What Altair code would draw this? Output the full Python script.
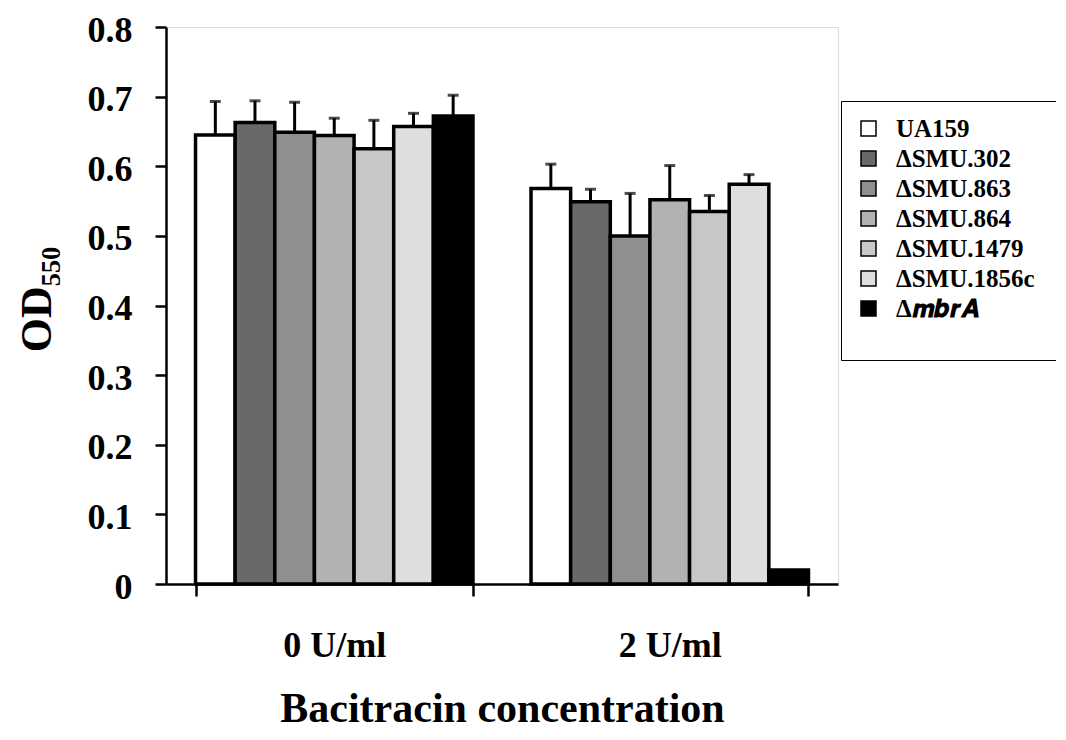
import altair as alt
import pandas as pd

conditions = ["0 U/ml", "2 U/ml"]
strains = ["UA159", "ΔSMU.302", "ΔSMU.863", "ΔSMU.864", "ΔSMU.1479", "ΔSMU.1856c", "Δ𝒎𝒃𝒓𝑨"]
colors = ["#ffffff", "#696969", "#8e908f", "#b2b2b2", "#c8c8c8", "#dedede", "#000000"]

od_0 = [0.645, 0.663, 0.649, 0.644, 0.625, 0.657, 0.672]
err_0 = [0.048, 0.031, 0.043, 0.025, 0.041, 0.019, 0.030]
od_2 = [0.568, 0.549, 0.500, 0.552, 0.535, 0.574, 0.020]
err_2 = [0.035, 0.018, 0.061, 0.049, 0.023, 0.014, 0.0]

rows = []
for cond, vals, errs in [(conditions[0], od_0, err_0), (conditions[1], od_2, err_2)]:
    for s, v, e in zip(strains, vals, errs):
        rows.append({"cond": cond, "strain": s, "od": v, "err": e, "hi": v + e})
df = pd.DataFrame(rows)

FONT = "Liberation Serif"

x_enc = alt.X(
    "cond:N",
    sort=conditions,
    scale=alt.Scale(paddingInner=0.173, paddingOuter=0.088),
    axis=alt.Axis(
        title="Bacitracin concentration",
        labelAngle=0,
        tickBand="extent",
        tickSize=12,
        tickWidth=2.5,
        tickColor="black",
        domainColor="black",
        domainWidth=2.5,
        labelFont=FONT,
        labelFontSize=36,
        labelFontWeight="bold",
        labelColor="black",
        labelPadding=32,
        titleFont=FONT,
        titleFontSize=42,
        titleFontWeight="bold",
        titleColor="black",
        titleX=336,
        titleY=137,
        titleBaseline="alphabetic",
        titleAlign="center",
    ),
)
xo_enc = alt.XOffset("strain:N", sort=strains, scale=alt.Scale(paddingInner=0, paddingOuter=0))
y_scale = alt.Scale(domain=[0, 0.8], nice=False)

bars = alt.Chart(df).mark_bar(stroke="black", strokeWidth=3.5).encode(
    x=x_enc,
    xOffset=xo_enc,
    y=alt.Y(
        "od:Q",
        scale=y_scale,
        axis=alt.Axis(
            title="OD₅₅₀",
            values=[0, 0.1, 0.2, 0.3, 0.4, 0.5, 0.6, 0.7, 0.8],
            labelExpr="datum.value == 0 ? '0' : format(datum.value, '.1f')",
            grid=False,
            tickSize=11,
            tickWidth=2.5,
            tickColor="black",
            domainColor="black",
            domainWidth=2.5,
            labelFont=FONT,
            labelFontSize=36,
            labelFontWeight="bold",
            labelColor="black",
            labelPadding=23,
            labelOffset=3,
            titleFont=FONT,
            titleFontSize=44,
            titleFontWeight="bold",
            titleColor="black",
            titleX=-116,
            titleY=272,
            titleBaseline="alphabetic",
            titleAlign="center",
            titleAngle=270,
        ),
    ),
    fill=alt.Fill(
        "strain:N",
        sort=strains,
        scale=alt.Scale(domain=strains, range=colors),
        legend=alt.Legend(
            title="\u2800" * 15,
            titleOrient="bottom",
            titleFont="DejaVu Sans",
            titleFontSize=17,
            titlePadding=7,
            titleLimit=800,
            orient="none",
            legendX=675,
            legendY=74,
            symbolType="square",
            symbolSize=225,
            symbolStrokeColor="black",
            symbolStrokeWidth=1.5,
            symbolOpacity=1,
            labelFont=FONT,
            labelFontSize=25,
            labelFontWeight="bold",
            labelColor="black",
            labelOffset=15,
            labelLimit=400,
            rowPadding=4,
            padding=15,
            strokeColor="black",
            fillColor="white",
        ),
    ),
)

err_df = df[df["err"] > 0]
rules = alt.Chart(err_df).mark_rule(color="black", strokeWidth=3).encode(
    x=alt.X("cond:N", sort=conditions),
    xOffset=alt.XOffset("strain:N", sort=strains),
    y=alt.Y("od:Q", scale=y_scale),
    y2="hi:Q",
)
caps = alt.Chart(err_df).mark_tick(color="black", thickness=3, size=11, orient="horizontal").encode(
    x=alt.X("cond:N", sort=conditions),
    xOffset=alt.XOffset("strain:N", sort=strains),
    y=alt.Y("hi:Q", scale=y_scale),
)

chart = (
    alt.layer(bars, rules, caps)
    .properties(
        width=672,
        height=557,
        autosize=alt.AutoSizeParams(type="none"),
        padding={"left": 158, "top": 19, "right": 218, "bottom": 146},
    )
    .configure_view(stroke="black", strokeWidth=2.5)
    .configure_legend(strokeWidth=2.5)
    .configure(background="white")
)

chart.save("out.html", embed_options={"renderer": "svg", "actions": False})
